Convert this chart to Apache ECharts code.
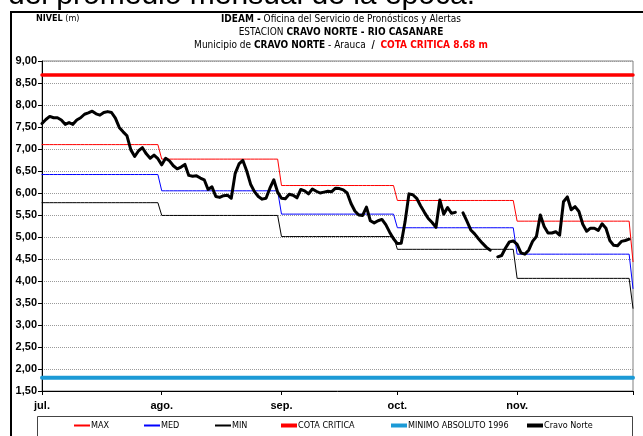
<!DOCTYPE html>
<html>
<head>
<meta charset="utf-8">
<script src="https://cdn.jsdelivr.net/npm/echarts@6/dist/echarts.min.js"></script>
<style>
  html, body { margin: 0; padding: 0; background: #fff; }
  #chart { width: 643px; height: 436px; }
</style>
</head>
<body>
<div id="chart"></div>
<script>
// Months shown on the date axis and their lengths (Jul 1 .. Dec 1)
const monthLabels = ['jul.', 'ago.', 'sep.', 'oct.', 'nov.'];
const monthDays = [31, 31, 30, 31, 30];
const endLabel = 'dic.';

// Monthly reference levels (m); last entry is the value on Dec 1
const maxMonthly = [7.10, 6.77, 6.17, 5.83, 5.36, 4.44];
const medMonthly = [6.42, 6.05, 5.52, 5.21, 4.61, 3.83];
const minMonthly = [5.78, 5.49, 5.01, 4.72, 4.06, 3.38];

// Fixed thresholds (m)
const cotaCritica = 8.68;
const minimoAbsoluto = 1.80;

// Daily level at Cravo Norte, Jul 1 .. Nov 30 (null = no reading)
const cravoNorte = [
  7.58, 7.67, 7.74, 7.71, 7.71, 7.66, 7.56, 7.60, 7.56, 7.66,
  7.71, 7.79, 7.82, 7.86, 7.80, 7.77, 7.83, 7.85, 7.83, 7.70,
  7.49, 7.39, 7.30, 6.98, 6.83, 6.96, 7.03, 6.89, 6.79, 6.86,
  6.78, 6.64, 6.79, 6.73, 6.62, 6.55, 6.59, 6.65, 6.40, 6.38,
  6.39, 6.34, 6.30, 6.08, 6.14, 5.92, 5.90, 5.94, 5.95, 5.88,
  6.44, 6.66, 6.74, 6.50, 6.20, 6.03, 5.92, 5.86, 5.88, 6.11,
  6.30, 6.02, 5.88, 5.87, 5.97, 5.95, 5.89, 6.08, 6.05, 5.98,
  6.09, 6.04, 6.00, 6.02, 6.04, 6.03, 6.11, 6.10, 6.07, 6.00,
  5.76, 5.59, 5.50, 5.49, 5.68, 5.37, 5.32, 5.37, 5.40, 5.28,
  5.11, 4.96, 4.85, 4.86, 5.35, 5.98, 5.96, 5.88, 5.71, 5.56,
  5.42, 5.33, 5.22, 5.84, 5.52, 5.67, 5.54, 5.56, null, 5.55,
  5.36, 5.16, 5.07, 4.96, 4.86, 4.77, 4.70, null, 4.55, 4.58,
  4.75, 4.89, 4.91, 4.83, 4.64, 4.61, 4.70, 4.90, 5.01, 5.50,
  5.24, 5.09, 5.09, 5.12, 5.04, 5.80, 5.91, 5.62, 5.69, 5.58,
  5.29, 5.13, 5.20, 5.20, 5.15, 5.30, 5.20, 4.92, 4.81, 4.80,
  4.90, 4.92, 4.95
];

// Y axis range
const yMin = 1.5, yMax = 9, yStep = 0.5;

// ---- build daily categories and step series ----
const days = [];
const monthStarts = [];
monthLabels.forEach((m, i) => {
  monthStarts.push(days.length);
  for (let d = 1; d <= monthDays[i]; d++) days.push(d + ' ' + m);
});
monthStarts.push(days.length);
days.push('1 ' + endLabel);

function expandMonthly(vals) {
  const out = [];
  monthDays.forEach((n, i) => { for (let k = 0; k < n; k++) out.push(vals[i]); });
  out.push(vals[vals.length - 1]);
  return out;
}
const flat = v => days.map(() => v);
const monthLabelAt = {};
monthStarts.forEach((idx, i) => { if (i < monthLabels.length) monthLabelAt[idx] = monthLabels[i]; });

const NARROW = "'Liberation Sans Narrow','Arial Narrow','DejaVu Sans Condensed','Liberation Sans',sans-serif";
const SANS = "'Liberation Sans',Arial,sans-serif";
const fmt = v => v.toFixed(2).replace('.', ',');

function lineSeries(name, data, color, width, z) {
  return {
    name, type: 'line', data, z,
    symbol: 'none', showSymbol: false, connectNulls: false,
    lineStyle: { color, width, cap: 'round', join: 'round' },
    itemStyle: { color },
    emphasis: { disabled: true },
    animation: false
  };
}

const legendItems = [
  { name: 'MAX', left: 74, h: 2 },
  { name: 'MED', left: 144, h: 2 },
  { name: 'MIN', left: 215, h: 2 },
  { name: 'COTA CRITICA', left: 281, h: 4 },
  { name: 'MINIMO ABSOLUTO 1996', left: 391, h: 4 },
  { name: 'Cravo Norte', left: 527, h: 4 }
];

const titleStyle = {
  fontFamily: NARROW, fontSize: 10, fontWeight: 'normal', color: '#000',
  rich: {
    b: { fontFamily: NARROW, fontSize: 10, fontWeight: 'bold', color: '#000' },
    r: { fontFamily: NARROW, fontSize: 10, fontWeight: 'bold', color: '#ff0000' }
  }
};

const chart = echarts.init(document.getElementById('chart'), null, { renderer: 'canvas' });
chart.setOption({
  backgroundColor: '#fff',
  animation: false,
  title: [
    { text: '{b|NIVEL} (m)', left: 36, top: 14, padding: 0,
      textStyle: { fontFamily: NARROW, fontSize: 9, fontWeight: 'normal', color: '#000',
        rich: { b: { fontFamily: NARROW, fontSize: 9, fontWeight: 'bold', color: '#000' } } } },
    { text: '{b|IDEAM -} Oficina del Servicio de Pronósticos y Alertas', left: 341, top: 14, padding: 0, textAlign: 'center', textStyle: titleStyle },
    { text: 'ESTACION {b|CRAVO NORTE - RIO CASANARE}', left: 341, top: 27, padding: 0, textAlign: 'center', textStyle: titleStyle },
    { text: 'Municipio de {b|CRAVO NORTE} - Arauca  {b|/}  {r|COTA CRITICA ' + cotaCritica.toFixed(2) + ' m}', left: 341, top: 40, padding: 0, textAlign: 'center', textStyle: titleStyle }
  ],
  legend: legendItems.map(it => ({
    data: [it.name], left: it.left, top: 421, padding: 0,
    icon: 'rect', itemWidth: 16, itemHeight: it.h, itemGap: 0,
    selectedMode: false,
    textStyle: { fontFamily: NARROW, fontSize: 9, color: '#000', padding: [0, 0, 0, -4] }
  })),
  grid: { left: 42, right: 10, top: 61, bottom: 45, show: true, borderColor: '#808080', borderWidth: 1, backgroundColor: 'transparent' },
  xAxis: {
    type: 'category', data: days, boundaryGap: false,
    axisLine: { lineStyle: { color: '#000', width: 1 } },
    axisTick: { show: true, length: 4, lineStyle: { color: '#000' },
      interval: idx => monthStarts.indexOf(idx) >= 0 },
    axisLabel: {
      interval: idx => monthLabelAt[idx] !== undefined,
      formatter: (v, idx) => monthLabelAt[idx] || '',
      fontFamily: SANS, fontSize: 11, fontWeight: 'bold', color: '#000', margin: 9
    },
    splitLine: { show: false }
  },
  yAxis: {
    type: 'value', min: yMin, max: yMax, interval: yStep,
    axisLine: { show: true, lineStyle: { color: '#000', width: 1 } },
    axisTick: { show: true, length: 4, lineStyle: { color: '#000' } },
    axisLabel: { formatter: fmt, fontFamily: SANS, fontSize: 11, fontWeight: 'bold', color: '#000', margin: 5 },
    splitLine: { show: true, lineStyle: { color: '#9a9a9a', width: 1, type: [1, 1] } }
  },
  series: [
    lineSeries('MAX', expandMonthly(maxMonthly), '#ff0000', 1, 3),
    lineSeries('MED', expandMonthly(medMonthly), '#0000ff', 1, 3),
    lineSeries('MIN', expandMonthly(minMonthly), '#000000', 1, 3),
    lineSeries('COTA CRITICA', flat(cotaCritica), '#ff0000', 3.5, 4),
    lineSeries('MINIMO ABSOLUTO 1996', flat(minimoAbsoluto), '#1c9ad6', 4, 4),
    lineSeries('Cravo Norte', cravoNorte, '#000000', 3, 5)
  ],
  graphic: [
    { type: 'text', left: 8, top: -19, z: 10, silent: true,
      style: { text: 'del promedio mensual de la época.', font: "30px 'Liberation Sans', Arial, sans-serif", fill: '#000' } },
    { type: 'line', z: 9, silent: true, shape: { x1: 10, y1: 12, x2: 643, y2: 12 }, style: { stroke: '#000', lineWidth: 2 } },
    { type: 'line', z: 9, silent: true, shape: { x1: 11, y1: 11, x2: 11, y2: 436 }, style: { stroke: '#000', lineWidth: 2 } },
    { type: 'rect', z: 1, silent: true, shape: { x: 37.5, y: 416.5, width: 595, height: 30 }, style: { fill: 'none', stroke: '#444', lineWidth: 1 } }
  ]
});
</script>
</body>
</html>
